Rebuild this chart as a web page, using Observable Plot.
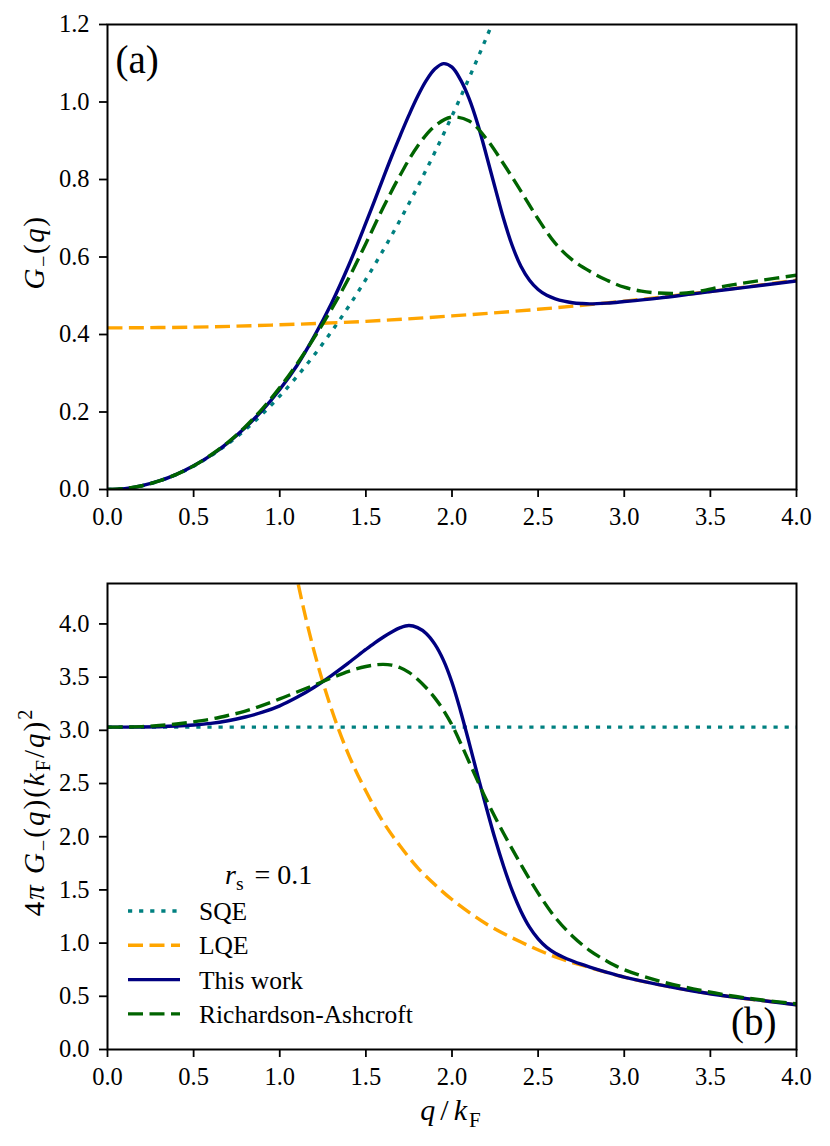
<!DOCTYPE html>
<html><head><meta charset="utf-8">
<script src="https://cdn.jsdelivr.net/npm/d3@7"></script>
<script src="https://cdn.jsdelivr.net/npm/@observablehq/plot@0.6"></script>
<style>
body{margin:0;background:#fff;}
#wrap{position:relative;width:830px;height:1146px;overflow:hidden;}
#wrap > svg{display:block;}
#legend{position:absolute;left:0;top:0;}
</style></head><body><div id="wrap"></div>
<script>
// ---- tick values ----
const xTicks = [0, 0.5, 1.0, 1.5, 2.0, 2.5, 3.0, 3.5, 4.0];
const yTicksA = [0, 0.2, 0.4, 0.6, 0.8, 1.0, 1.2];
const yTicksB = [0, 0.5, 1.0, 1.5, 2.0, 2.5, 3.0, 3.5, 4.0];
const seriesNames = ["SQE", "LQE", "This work", "Richardson-Ashcroft"];
const rsLabel = "0.1";

// ---- panel (a): G_-(q) ----
const sqeAq = [0,0.1,0.2,0.3,0.4,0.5,0.6,0.7,0.8,0.9,1.0,1.1,1.2,1.3,1.4,1.5,1.6,1.7,1.8,1.9,2.0,2.1,2.2,2.3];
const sqeAv = [0,0.0024,0.0096,0.0217,0.0386,0.0603,0.0868,0.1181,0.1542,0.1952,0.241,0.2916,0.347,0.4073,0.4724,0.5423,0.617,0.6965,0.7808,0.87,0.964,1.0628,1.1664,1.2749];

const lqeAq = [0,0.5,1.0,1.5,2.0,2.5,3.0,3.5,4.0];
const lqeAv = [0.417,0.419,0.425,0.434,0.448,0.465,0.486,0.511,0.540];

const twAq = [0,0.1,0.2,0.3,0.4,0.5,0.6,0.7,0.8,0.9,1.0,1.1,1.2,1.3,1.4,1.5,
  1.55,1.6,1.65,1.7,1.75,1.8,1.85,1.9,1.95,2.0,2.05,2.1,2.15,2.2,2.25,2.3,2.35,2.4,2.45,2.5,2.55,2.6,2.65,2.7,2.75,2.8,
  2.9,3.0,3.2,3.4,3.6,3.8,4.0];
const twAv = [0,0.002,0.010,0.022,0.039,0.061,0.088,0.121,0.160,0.205,0.258,0.320,0.395,0.480,0.578,0.688,
  0.745,0.803,0.860,0.914,0.966,1.014,1.055,1.085,1.099,1.090,1.057,1.008,0.942,0.862,0.779,0.698,0.629,0.576,0.540,0.516,0.501,0.492,0.486,0.482,0.480,0.479,
  0.481,0.485,0.494,0.505,0.516,0.527,0.538];

const raAq = [0,0.1,0.2,0.3,0.4,0.5,0.6,0.7,0.8,0.9,1.0,1.1,1.2,1.3,1.4,1.5,1.6,1.7,1.8,1.9,2.0,2.1,2.2,2.3,2.4,2.5,2.6,2.7,2.8,2.9,3.0,3.1,3.2,3.3,3.4,3.6,3.8,4.0];
const raAv = [0,0.0024,0.0097,0.022,0.039,0.061,0.089,0.122,0.162,0.209,0.263,0.324,0.392,0.465,0.545,0.635,0.727,0.812,0.886,0.938,0.961,0.951,0.905,0.840,0.770,0.698,0.635,0.592,0.563,0.540,0.522,0.512,0.507,0.506,0.509,0.526,0.540,0.553];

// ---- panel (b): 4 pi G_-(q) (kF/q)^2 ----
const sqeBq = [0, 4.0];
const sqeBv = [3.03, 3.03];

const lqeBq = [0.9,1.0,1.1,1.2,1.3,1.4,1.5,1.6,1.7,1.8,1.9,2.0,2.2,2.4,2.6,2.8,3.0,3.2,3.4,3.6,3.8,4.0];
const lqeBv = [6.57,5.34,4.43,3.74,3.20,2.77,2.43,2.14,1.91,1.71,1.55,1.41,1.18,1.01,0.87,0.77,0.68,0.61,0.55,0.50,0.46,0.42];

const twBq = [0,0.1,0.2,0.3,0.4,0.5,0.6,0.7,0.8,0.9,1.0,1.1,1.2,1.3,1.4,1.5,
  1.55,1.6,1.65,1.7,1.75,1.8,1.85,1.9,1.95,2.0,2.05,2.1,2.15,2.2,2.25,2.3,2.35,2.4,2.45,2.5,2.55,2.6,2.65,2.7,2.75,2.8,
  2.9,3.0,3.2,3.4,3.6,3.8,4.0];
const twBv = [3.03,3.03,3.031,3.034,3.04,3.05,3.065,3.09,3.125,3.17,3.23,3.31,3.405,3.515,3.635,3.76,
  3.82,3.875,3.925,3.965,3.985,3.965,3.91,3.81,3.66,3.45,3.18,2.88,2.57,2.27,1.98,1.72,1.49,1.30,1.15,1.04,0.96,0.905,0.865,0.832,0.802,0.775,
  0.725,0.68,0.61,0.55,0.50,0.46,0.42];

const raBq = [0,0.1,0.2,0.3,0.4,0.5,0.6,0.7,0.8,0.9,1.0,1.1,1.2,1.3,1.4,1.5,
  1.55,1.6,1.65,1.7,1.75,1.8,1.85,1.9,1.95,2.0,2.05,2.1,2.15,2.2,
  2.3,2.4,2.5,2.6,2.7,2.8,2.9,3.0,3.2,3.4,3.6,3.8,4.0];
const raBv = [3.03,3.031,3.035,3.045,3.06,3.08,3.105,3.14,3.18,3.235,3.295,3.36,3.425,3.492,3.555,3.60,
  3.614,3.62,3.613,3.588,3.545,3.48,3.40,3.305,3.19,3.05,2.88,2.70,2.52,2.345,
  2.03,1.74,1.47,1.24,1.065,0.93,0.83,0.75,0.645,0.57,0.51,0.465,0.43];

// ---- styles ----
const FONT = "'Liberation Serif', 'DejaVu Serif', serif";
const LW = 3.4;
const styles = [
  {color: "#008080", dash: "4.2,6.9"},
  {color: "#FFA500", dash: "15,6.5"},
  {color: "#000080", dash: null},
  {color: "#006400", dash: "15,6.5"}
];

function mathText(sel, parts, fs) {
  let shift = 0;
  parts.forEach(p => {
    const t = sel.append("tspan").text(p.t);
    if (p.i) t.attr("font-style", "italic");
    const target = p.sub ? fs * 0.22 : p.sup ? -fs * 0.4 : 0;
    const dy = target - shift; shift = target;
    if (dy) t.attr("dy", dy);
    if (p.dx) t.attr("dx", p.dx);
    t.attr("font-size", (p.sub || p.sup) ? fs * 0.7 : fs);
  });
}

function makePanel(o) {
  const marks = [];
  o.series.forEach((s, k) => {
    const data = s.q.map((q, i) => ({q, v: s.v[i]}));
    const st = styles[k];
    marks.push(Plot.line(data, {x: "q", y: "v", stroke: st.color, strokeWidth: LW,
      strokeDasharray: st.dash, strokeLinecap: "butt", curve: "catmull-rom", clip: true}));
  });
  marks.push(Plot.axisX({ticks: xTicks, tickFormat: d3.format(".1f"), tickSize: 8, tickPadding: 10,
    strokeWidth: 1.8, label: null, fontSize: 24.5}));
  marks.push(Plot.axisY({ticks: o.yTicks, tickFormat: d3.format(".1f"), tickSize: 8, tickPadding: 10,
    strokeWidth: 1.8, label: null, fontSize: 24.5}));
  marks.push(Plot.frame({stroke: "black", strokeWidth: 2}));
  marks.push(Plot.text([o.tag], {text: d => d, frameAnchor: o.tagAnchor, textAnchor: o.tagTextAnchor,
    lineAnchor: "middle", dx: o.tagDx, dy: o.tagDy, fontSize: 39, fill: "black"}));
  return Plot.plot({
    width: 830, height: o.height,
    marginLeft: 107, marginRight: 34, marginTop: o.mt, marginBottom: o.mb,
    style: {fontFamily: FONT, fontSize: "24px", background: "white", color: "black", overflow: "visible"},
    x: {domain: [0, 4], axis: null},
    y: {domain: o.yDomain, axis: null},
    marks
  });
}

const wrap = d3.select("#wrap");

const pa = makePanel({height: 540, mt: 24, mb: 51, yDomain: [0, 1.2], yTicks: yTicksA,
  series: [{q: sqeAq, v: sqeAv}, {q: lqeAq, v: lqeAv}, {q: twAq, v: twAv}, {q: raAq, v: raAv}],
  tag: "(a)", tagAnchor: "top-left", tagTextAnchor: "start", tagDx: 8, tagDy: 36});
wrap.node().appendChild(pa);

const pb = makePanel({height: 606, mt: 43, mb: 97, yDomain: [0, 4.38], yTicks: yTicksB,
  series: [{q: sqeBq, v: sqeBv}, {q: lqeBq, v: lqeBv}, {q: twBq, v: twBv}, {q: raBq, v: raBv}],
  tag: "(b)", tagAnchor: "bottom-right", tagTextAnchor: "end", tagDx: -20, tagDy: -27});
wrap.node().appendChild(pb);

// axis labels
function yLabel(plot, parts, fs, ls) {
  const ys = plot.scale("y").range;
  const cy = (ys[0] + ys[1]) / 2 - 4;
  const t = d3.select(plot).append("text")
    .attr("transform", `translate(44,${cy}) rotate(-90)`)
    .attr("text-anchor", "middle").attr("fill", "black")
    .attr("letter-spacing", ls)
    .attr("font-family", FONT);
  mathText(t, parts, fs);
}
yLabel(pa, [{t: "G", i: true}, {t: "−", sub: true}, {t: "("}, {t: "q", i: true}, {t: ")"}], 29, 1.5);
yLabel(pb, [{t: "4"}, {t: "π", i: true}, {t: " "}, {t: "G", i: true}, {t: "−", sub: true}, {t: "("},
  {t: "q", i: true}, {t: ")("}, {t: "k", i: true}, {t: "F", sub: true}, {t: "/"}, {t: "q", i: true},
  {t: ")"}, {t: "2", sup: true}], 29, 2);
{
  const xs = pb.scale("x").range, ys = pb.scale("y").range;
  const t = d3.select(pb).append("text")
    .attr("x", (xs[0] + xs[1]) / 2).attr("y", ys[0] + 71)
    .attr("text-anchor", "middle").attr("fill", "black").attr("font-family", FONT)
    .attr("letter-spacing", 2);
  mathText(t, [{t: "q", i: true}, {t: "/", dx: 3}, {t: "k", i: true, dx: 3}, {t: "F", sub: true}], 30);
}

// legend (overlay in panel b)
{
  const lg = wrap.append("svg").attr("id", "legend").attr("width", 830).attr("height", 1146)
    .style("pointer-events", "none");
  const title = lg.append("text").attr("x", 225).attr("y", 884).attr("fill", "black")
    .attr("font-family", FONT);
  mathText(title, [{t: "r", i: true}, {t: "s", sub: true}, {t: " =  " + rsLabel, dx: 4}], 28);
  seriesNames.forEach((name, k) => {
    const y = 911 + k * 34.3;
    const st = styles[k];
    const ln = lg.append("line").attr("x1", 128).attr("x2", 180).attr("y1", y).attr("y2", y)
      .attr("stroke", st.color).attr("stroke-width", LW);
    if (st.dash) ln.attr("stroke-dasharray", st.dash);
    lg.append("text").attr("x", 199).attr("y", y + 9).attr("fill", "black")
      .attr("font-family", FONT).attr("font-size", 25.5).text(name);
  });
}
</script></body></html>
